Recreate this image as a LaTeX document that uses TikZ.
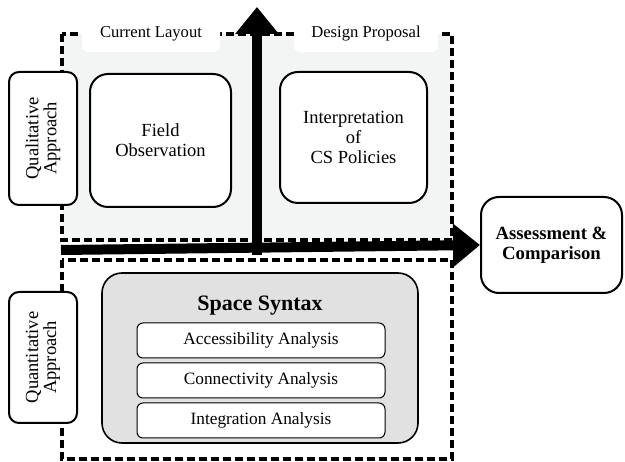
\documentclass[tikz,border=0pt]{standalone}
\usepackage{fontspec}
\setmainfont{Liberation Serif}
\usetikzlibrary{arrows.meta}

\definecolor{panelgray}{HTML}{F3F4F4}
\definecolor{syntaxgray}{HTML}{E1E1E1}

\tikzset{
  dashbox/.style={draw, line width=3.5pt, dash pattern=on 8pt off 4pt},
  tabbox/.style={fill=white, rounded corners=6pt},
  tabtext/.style={font=\fontsize{16.6}{18}\selectfont},
  stagebox/.style={draw, line width=2pt, rounded corners=18pt, fill=white,
    align=center, inner sep=0pt, font=\fontsize{18.5}{20}\selectfont},
  sidebox/.style={draw, line width=2pt, rounded corners=10pt, fill=white,
    rotate=90, align=center, inner sep=0pt, minimum height=68pt,
    font=\fontsize{18.5}{18}\selectfont},
  analysisbox/.style={draw, line width=1pt, rounded corners=6pt, fill=white,
    minimum width=248pt, minimum height=35pt, inner sep=0pt,
    font=\fontsize{17.3}{19}\selectfont},
  bigarrow/.style={line width=10pt, -{Triangle[width=42pt,length=27pt]}},
}

\begin{document}
\begin{tikzpicture}[x=1pt,y=-1pt]
    \useasboundingbox (0,0) rectangle (625,462);

    % the two method panels
    \draw[dashbox, fill=panelgray] (62,34) rectangle (452,240);
    \draw[dashbox] (62,260) rectangle (452,459);

    % tabs on top of the upper panel
    \fill[tabbox] (82,18) rectangle (220,52);
    \fill[tabbox] (294,18) rectangle (438,52);
    \node[tabtext] (current) at (151,34) {Current Layout};
    \node[tabtext] (design) at (366,34) {Design Proposal};

    % qualitative part
    \node[sidebox, minimum width=133pt] (qual) at (43,138.5) {Qualitative\\Approach};
    \node[stagebox, minimum width=141pt, minimum height=133pt] (field) at (160.5,140.5) {Field\\Observation};
    \node[stagebox, minimum width=147pt, minimum height=131pt] (policy) at (353.5,137.5) {Interpretation\\of\\CS Policies};

    % quantitative part
    \node[sidebox, minimum width=131pt] (quant) at (43,357.5) {Quantitative\\Approach};
    \node[draw, line width=1.6pt, rounded corners=20pt, fill=syntaxgray,
          minimum width=316pt, minimum height=170pt] (syntax) at (260,358) {};
    \node[font=\bfseries\fontsize{22}{24}\selectfont] (title) at (260,306) {Space Syntax};
    \node[analysisbox] (access) at (261,340.5) {Accessibility Analysis};
    \node[analysisbox] (connect) at (261,380.5) {Connectivity Analysis};
    \node[analysisbox] (integr) at (261,420.5) {Integration Analysis};

    % result
    \node[stagebox, font=\bfseries\fontsize{18.7}{20}\selectfont,
          minimum width=141pt, minimum height=96pt] (assess) at (551.5,245) {Assessment \&\\Comparison};

    % axes
    \coordinate (hstart) at (61,250);
    \coordinate (vstart) at (257,255);
    \coordinate (vtip) at (257,7);
    \draw[bigarrow] (hstart) -- (assess.west);
    \draw[bigarrow] (vstart) -- (vtip);
\end{tikzpicture}
\end{document}
